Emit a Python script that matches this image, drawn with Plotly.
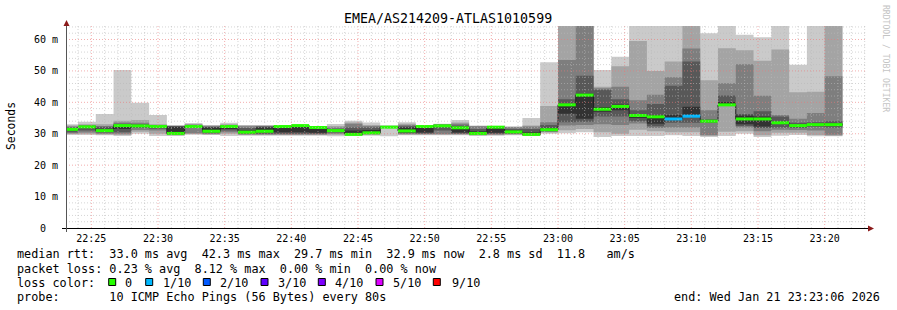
import plotly.graph_objects as go
import pandas as pd

# ---------------- data ----------------
title_text = "EMEA/AS214209-ATLAS1010599"
first_step_start = "2026-01-21 22:22:40"
step_seconds = 80
x_start = "2026-01-21 22:23:06"
x_end = "2026-01-21 23:23:06"

# sorted ping times (ms) per 80 s step, p1 = fastest ... p10 = slowest
p1 = [29.6, 29.6, 29.5, 29.3, 30.0, 29.3, 29.3, 29.7, 29.6, 29.3, 29.4, 29.4, 29.4, 29.4, 29.4,
      29.2, 29.3, 29.4, 29.2, 29.5, 29.5, 29.5, 29.5, 29.3, 29.4, 29.5, 29.3, 30.0, 30.2, 30.5,
      29.0, 29.3, 29.3, 29.3, 29.5, 29.3, 29.0, 29.3, 30.0, 29.0, 29.4, 29.6, 29.2, 29.2]
p2 = [29.9, 30.0, 29.8, 29.6, 30.6, 30.0, 29.5, 29.9, 29.8, 30.0, 29.6, 29.6, 29.6, 29.6, 29.6,
      29.7, 29.5, 29.6, 31.8, 29.7, 29.7, 29.7, 29.7, 29.5, 29.6, 29.7, 29.4, 30.4, 31.1, 31.5,
      30.5, 30.0, 31.3, 30.8, 30.5, 30.5, 29.3, 30.6, 30.8, 29.5, 30.3, 30.3, 29.6, 29.4]
p3 = [30.2, 30.4, 30.0, 30.0, 31.2, 31.0, 29.6, 30.2, 30.0, 30.5, 29.8, 29.8, 29.8, 29.8, 29.8,
      30.0, 29.6, 29.9, 31.9, 30.0, 29.9, 29.9, 29.9, 29.6, 29.8, 29.9, 29.5, 30.6, 32.6, 32.8,
      33.0, 32.8, 33.3, 31.8, 32.0, 32.0, 29.6, 38.8, 32.0, 30.8, 31.3, 31.2, 31.0, 29.7]
p4 = [30.5, 31.0, 30.4, 30.5, 31.8, 31.6, 29.8, 31.8, 30.2, 31.0, 30.0, 30.0, 30.0, 30.0, 30.0,
      30.4, 29.8, 30.1, 32.0, 30.2, 30.1, 31.0, 30.1, 29.8, 30.0, 30.1, 29.6, 30.8, 33.7, 33.8,
      35.5, 35.5, 34.0, 32.4, 33.5, 33.5, 33.5, 39.0, 32.5, 31.8, 32.0, 31.8, 32.2, 32.0]
p5 = [31.0, 32.0, 30.8, 31.5, 32.3, 32.1, 30.0, 32.2, 30.6, 31.5, 30.3, 30.6, 30.5, 30.5, 30.3,
      30.8, 30.0, 30.3, 32.0, 30.5, 30.4, 32.4, 30.4, 30.0, 30.3, 30.4, 29.8, 31.1, 36.4, 34.8,
      37.0, 37.5, 35.0, 33.2, 34.3, 36.0, 33.8, 39.4, 33.0, 32.3, 33.4, 32.4, 32.7, 32.6]
p6 = [31.8, 32.3, 31.6, 32.9, 32.7, 32.4, 32.2, 32.4, 32.0, 32.4, 31.0, 32.0, 32.3, 32.5, 32.0,
      31.2, 31.0, 31.2, 32.2, 32.0, 32.2, 32.6, 32.2, 30.8, 32.0, 31.0, 30.5, 31.8, 39.5, 42.7,
      38.5, 39.3, 36.3, 36.0, 36.0, 38.6, 34.3, 40.1, 35.8, 35.5, 33.8, 32.8, 33.2, 33.3]
p7 = [32.0, 32.5, 32.2, 33.2, 33.0, 32.5, 32.4, 32.6, 32.2, 32.6, 31.8, 32.3, 32.35, 32.6, 32.1,
      31.6, 32.0, 32.0, 32.3, 32.4, 32.25, 32.8, 32.6, 31.5, 32.1, 31.5, 31.5, 32.8, 41.0, 48.5,
      44.0, 41.0, 37.5, 39.5, 45.3, 53.0, 34.6, 42.2, 36.3, 37.2, 35.5, 33.5, 33.7, 34.0]
p8 = [32.3, 32.8, 32.5, 33.6, 33.5, 32.7, 32.5, 32.9, 32.4, 32.8, 32.4, 32.5, 32.4, 32.7, 32.2,
      32.0, 33.2, 32.5, 32.4, 32.8, 32.3, 33.0, 33.2, 32.4, 32.2, 32.1, 32.3, 33.7, 53.5, 65.0,
      44.5, 45.0, 40.7, 42.4, 48.0, 57.1, 37.5, 46.1, 52.1, 42.1, 36.0, 34.8, 36.6, 48.3]
p9 = [32.6, 33.0, 33.0, 34.1, 34.4, 33.0, 32.6, 33.1, 32.6, 33.0, 32.6, 32.6, 32.5, 32.8, 32.3,
      32.5, 33.6, 32.8, 32.5, 33.2, 32.4, 33.1, 33.6, 32.5, 32.3, 32.2, 32.6, 38.8, 65.0, 66.0,
      45.0, 51.5, 59.5, 50.0, 53.0, 65.0, 47.0, 57.2, 56.6, 53.2, 56.8, 43.2, 43.4, 66.0]
p10 = [33.0, 33.8, 36.3, 50.3, 39.9, 36.0, 32.7, 33.4, 32.8, 33.5, 32.8, 32.8, 32.6, 32.9, 32.4,
       33.1, 34.1, 33.6, 32.7, 33.7, 32.5, 33.2, 34.4, 32.6, 32.4, 32.3, 35.0, 52.8, 66.0, 67.0,
       50.3, 54.5, 65.0, 65.0, 65.0, 66.0, 62.0, 66.0, 61.5, 60.7, 66.0, 52.0, 66.0, 67.0]
median = [31.4, 32.2, 31.0, 32.6, 32.5, 32.3, 30.1, 32.3, 30.8, 32.3, 30.5, 30.8, 32.3, 32.6, 32.0,
          31.0, 29.8, 30.3, 32.1, 30.9, 32.3, 32.5, 31.9, 30.1, 32.1, 30.6, 29.8, 31.3, 39.2, 42.3,
          37.8, 38.7, 35.8, 35.4, 34.7, 35.6, 34.0, 39.2, 34.7, 34.7, 33.5, 32.6, 32.9, 32.9]
lost = [0] * 34 + [1, 1] + [0] * 8   # lost pings out of 10 per step

y_tick_values = [0, 10, 20, 30, 40, 50, 60]
y_tick_labels = ["0\u00a0\u00a0", "10 m", "20 m", "30 m", "40 m", "50 m", "60 m"]

loss_classes = [0, 1, 2, 3, 4, 5, 9]
loss_labels = ["0", "1/10", "2/10", "3/10", "4/10", "5/10", "9/10"]
loss_colors = ["#26ff00", "#00b8ff", "#0059ff", "#5e00ff", "#7e00ff", "#dd00ff", "#ff0000"]

smoke_colors = ["#cacaca", "#a4a4a4", "#7e7e7e", "#585858", "#323232"]

stats_line1 = "median rtt:  33.0 ms avg  42.3 ms max  29.7 ms min  32.9 ms now  2.8 ms sd  11.8   am/s"
stats_line2 = "packet loss: 0.23 % avg  8.12 % max  0.00 % min  0.00 % now"
loss_line = "loss color:"
probe_line = "probe:       10 ICMP Echo Pings (56 Bytes) every 80s"
end_line = "end: Wed Jan 21 23:23:06 2026"
credit = "RRDTOOL / TOBI OETIKER"

# ---------------- layout geometry ----------------
W, H = 897, 310
L, T, PW, PH = 66, 26, 800, 202
MONO = "DejaVu Sans Mono"


def px(x):
    return (x - L) / PW


def py(y):
    return (T + PH - y) / PH


def nb(s):
    return s.replace(" ", "\u00a0")


times = pd.date_range(first_step_start, periods=len(median) + 1, freq=f"{step_seconds}s")


def stepy(vals):
    return list(vals) + [vals[-1]]


fig = go.Figure()

pings = [p1, p2, p3, p4, p5, p6, p7, p8, p9, p10]
for i in range(5):
    lo, hi = pings[i], pings[9 - i]
    fig.add_trace(go.Scatter(x=times, y=stepy(lo), mode="lines",
                             line=dict(width=0, shape="hv"), hoverinfo="skip", showlegend=False))
    fig.add_trace(go.Scatter(x=times, y=stepy(hi), mode="lines",
                             line=dict(width=0, shape="hv"), fill="tonexty",
                             fillcolor=smoke_colors[i], hoverinfo="skip", showlegend=False))

# thin dark median line
fig.add_trace(go.Scatter(x=times, y=stepy(median), mode="lines",
                         line=dict(color="#202020", width=1, shape="hv"),
                         hoverinfo="skip", showlegend=False))

# loss-coloured median bars
for cls, col in zip(loss_classes, loss_colors):
    xs, ys = [], []
    for k, m in enumerate(median):
        if lost[k] == cls:
            xs += [times[k], times[k + 1], None]
            ys += [m, m, None]
    if xs:
        fig.add_trace(go.Scatter(x=xs, y=ys, mode="lines",
                                 line=dict(color=col, width=3),
                                 hoverinfo="skip", showlegend=False))

shapes = []
# grid drawn over the smoke
minor_col = "rgba(185,185,185,0.6)"
major_col = "rgba(235,120,120,0.6)"
for t in pd.date_range("2026-01-21 22:24:00", "2026-01-21 23:23:00", freq="1min"):
    shapes.append(dict(type="line", xref="x", yref="paper", x0=t, x1=t, y0=0, y1=1,
                       line=dict(color=major_col if t.minute % 5 == 0 else minor_col,
                                 width=1, dash="1px,2px"), layer="above"))
for v in range(2, 65, 2):
    shapes.append(dict(type="line", xref="paper", yref="y", x0=0, x1=1, y0=v, y1=v,
                       line=dict(color=major_col if v % 10 == 0 else minor_col,
                                 width=1, dash="1px,2px"), layer="above"))
# axes lines and arrows
shapes.append(dict(type="line", xref="paper", yref="paper", x0=px(62), x1=px(869),
                   y0=py(228.5), y1=py(228.5), line=dict(color="#000000", width=1), layer="above"))
shapes.append(dict(type="line", xref="paper", yref="paper", x0=px(66.5), x1=px(66.5),
                   y0=py(232), y1=py(23), line=dict(color="#555555", width=1), layer="above"))
shapes.append(dict(type="path", xref="paper", yref="paper",
                   path=f"M {px(63.5)},{py(26)} L {px(69.5)},{py(26)} L {px(66.5)},{py(20)} Z",
                   fillcolor="#8b1a1a", line=dict(width=0), layer="above"))
shapes.append(dict(type="path", xref="paper", yref="paper",
                   path=f"M {px(868)},{py(225.5)} L {px(868)},{py(231.5)} L {px(874)},{py(228.5)} Z",
                   fillcolor="#8b1a1a", line=dict(width=0), layer="above"))

# loss colour legend boxes
box_x = [108.7, 145.7, 203.3, 261.0, 318.3, 376.0, 433.3]
label_x = [123.0, 160.7, 218.3, 276.0, 333.3, 390.7, 450.0]
annotations = []
for bx, lx, col, lab in zip(box_x, label_x, loss_colors, loss_labels):
    shapes.append(dict(type="rect", xref="paper", yref="paper",
                       x0=px(bx), x1=px(bx + 7), y0=py(278.5), y1=py(285.5),
                       fillcolor=col, line=dict(color="#000000", width=1)))
    annotations.append(dict(text=nb(lab), x=px(lx), y=py(282.5), xref="paper", yref="paper",
                            xanchor="left", yanchor="middle", showarrow=False,
                            font=dict(family=MONO, size=11.8, color="#000000")))


def add_text(txt, x, y, size, anchor="left", color="#000000", angle=0):
    annotations.append(dict(text=nb(txt), x=px(x), y=py(y), xref="paper", yref="paper",
                            xanchor=anchor, yanchor="middle", showarrow=False, textangle=angle,
                            font=dict(family=MONO, size=size, color=color)))


add_text(title_text, 448, 19, 13.3, anchor="center")
add_text("Seconds", 11, 126, 11.4, anchor="center", angle=-90)
add_text(credit, 886, 59, 8.1, anchor="center", color="#c4c4c4", angle=90)
add_text(stats_line1, 15, 254.5, 11.8)
add_text(stats_line2, 15, 268.5, 11.8)
add_text(loss_line, 15, 282.5, 11.8)
add_text(probe_line, 15, 296.5, 11.8)
add_text(end_line, 882, 296.5, 11.8, anchor="right")

fig.update_layout(
    width=W, height=H, autosize=False,
    margin=dict(l=L, r=W - L - PW, t=T, b=H - T - PH, pad=0),
    paper_bgcolor="#ffffff", plot_bgcolor="#ffffff",
    showlegend=False, hovermode=False,
    shapes=shapes, annotations=annotations,
    xaxis=dict(range=[x_start, x_end], type="date", tickformat="%H:%M",
               tick0="2026-01-21 22:25:00", dtick=300000, showgrid=False, zeroline=False,
               showline=False, ticks="", ticklabelstandoff=3,
               tickfont=dict(family=MONO, size=10, color="#000000")),
    yaxis=dict(range=[0, 64.3], tickvals=y_tick_values, ticktext=y_tick_labels,
               showgrid=False, zeroline=False, showline=False, ticks="",
               ticklabelstandoff=7,
               tickfont=dict(family=MONO, size=10, color="#000000")),
)

fig.write_html("out.html")
